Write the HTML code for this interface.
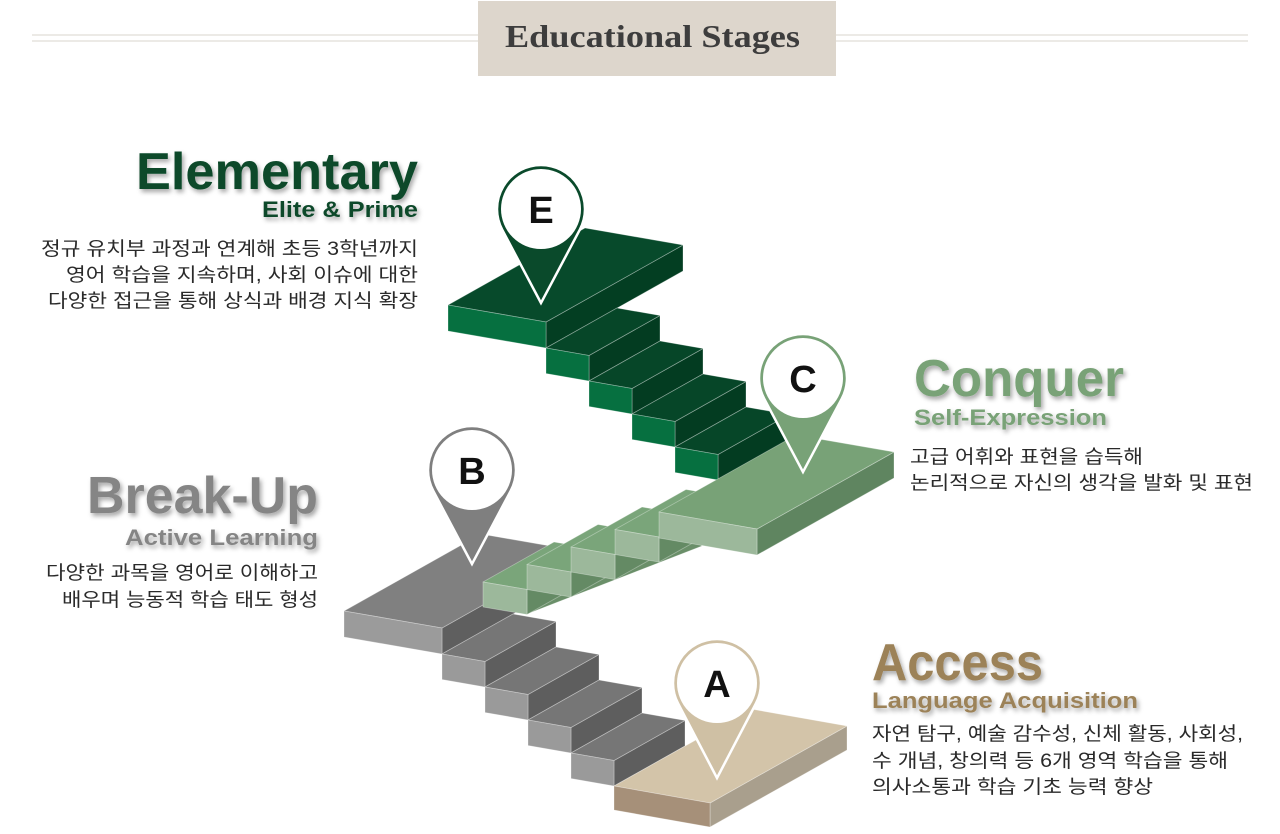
<!DOCTYPE html>
<html><head><meta charset="utf-8">
<style>
html,body{margin:0;padding:0;background:#fff;}
svg{display:block;}
.h{font-family:"Liberation Sans",sans-serif;font-weight:bold;}
.k{font-family:"Liberation Sans","Noto Sans CJK KR",sans-serif;font-size:19px;fill:#2a2a2a;}
.pin{font-family:"Liberation Sans",sans-serif;font-weight:bold;font-size:38px;fill:#111;text-anchor:middle;}
</style></head>
<body>
<svg id="s" width="1280" height="834" viewBox="0 0 1280 834" xmlns="http://www.w3.org/2000/svg">
<defs>
<filter id="sh" x="-10%" y="-30%" width="130%" height="170%">
<feDropShadow dx="2" dy="3" stdDeviation="2.5" flood-color="#000" flood-opacity="0.35"/>
</filter>
</defs>
<rect width="1280" height="834" fill="#fff"/>
<line x1="32" y1="35" x2="1248" y2="35" stroke="#e0ddd8" stroke-width="1.2"/>
<line x1="32" y1="41" x2="1248" y2="41" stroke="#e0ddd8" stroke-width="1.2"/>
<rect x="478" y="1" width="358" height="75" fill="#ddd6cc"/>
<text x="505" y="47" textLength="295" lengthAdjust="spacingAndGlyphs" font-family="Liberation Serif, serif" font-weight="bold" font-size="32" fill="#3d3d3d">Educational Stages</text>
<g id="shapes"></g>
<g class="h" filter="url(#sh)">
<text x="136" y="189" font-size="52" fill="#0c4a2b" textLength="282" lengthAdjust="spacingAndGlyphs">Elementary</text>
<text x="262" y="217" font-size="22" fill="#0c4a2b" textLength="156" lengthAdjust="spacingAndGlyphs">Elite &amp; Prime</text>
<text x="914" y="396" font-size="52" fill="#79a277" textLength="210" lengthAdjust="spacingAndGlyphs">Conquer</text>
<text x="914" y="425" font-size="22" fill="#79a277" textLength="193" lengthAdjust="spacingAndGlyphs">Self-Expression</text>
<text x="87" y="513" font-size="52" fill="#858585" textLength="231" lengthAdjust="spacingAndGlyphs">Break-Up</text>
<text x="125" y="545" font-size="22" fill="#858585" textLength="193" lengthAdjust="spacingAndGlyphs">Active Learning</text>
<text x="872" y="680" font-size="52" fill="#9c8258" textLength="171" lengthAdjust="spacingAndGlyphs">Access</text>
<text x="872" y="708" font-size="22" fill="#9c8258" textLength="266" lengthAdjust="spacingAndGlyphs">Language Acquisition</text>
</g>
<text class="k" x="41" y="255" textLength="377" lengthAdjust="spacingAndGlyphs">정규 유치부 과정과 연계해 초등 3학년까지</text>
<text class="k" x="66" y="281" textLength="352" lengthAdjust="spacingAndGlyphs">영어 학습을 지속하며, 사회 이슈에 대한</text>
<text class="k" x="48" y="307" textLength="370" lengthAdjust="spacingAndGlyphs">다양한 접근을 통해 상식과 배경 지식 확장</text>
<text class="k" x="910" y="463" textLength="233" lengthAdjust="spacingAndGlyphs">고급 어휘와 표현을 습득해</text>
<text class="k" x="910" y="489" textLength="343" lengthAdjust="spacingAndGlyphs">논리적으로 자신의 생각을 발화 및 표현</text>
<text class="k" x="46" y="579" textLength="272" lengthAdjust="spacingAndGlyphs">다양한 과목을 영어로 이해하고</text>
<text class="k" x="62" y="606" textLength="256" lengthAdjust="spacingAndGlyphs">배우며 능동적 학습 태도 형성</text>
<text class="k" x="872" y="740" textLength="371" lengthAdjust="spacingAndGlyphs">자연 탐구, 예술 감수성, 신체 활동, 사회성,</text>
<text class="k" x="872" y="767" textLength="356" lengthAdjust="spacingAndGlyphs">수 개념, 창의력 등 6개 영역 학습을 통해</text>
<text class="k" x="872" y="793" textLength="281" lengthAdjust="spacingAndGlyphs">의사소통과 학습 기초 능력 향상</text>
</svg>
<script>
(function(){
var g=document.getElementById('shapes');var out='';
var DL=[137,-77],DS=[71,-40];
function poly(pts,fill){out+='<polygon points="'+pts.map(function(p){return p[0].toFixed(1)+','+p[1].toFixed(1)}).join(' ')+'" fill="'+fill+'" stroke="rgba(255,255,255,0.35)" stroke-width="0.8" stroke-linejoin="round"/>';}
function box(P,w,drop,h,D,ct,cf,cs){
 var A=P,B=[P[0]+w,P[1]+drop];
 var Bd=[B[0]+D[0],B[1]+D[1]],Ad=[A[0]+D[0],A[1]+D[1]];
 poly([B,Bd,[Bd[0],Bd[1]+h],[B[0],B[1]+h]],cs);
 poly([A,B,Bd,Ad],ct);
 poly([A,B,[B[0],B[1]+h],[A[0],A[1]+h]],cf);
}
box([448,305],98,17,26,DL,'#074a2b','#067040','#033e22');
for(var i=0;i<4;i++){box([546+43*i,348+33*i],43,7.5,25.5,DS,'#064628','#067040','#033c21');}
box([344,611],98,17,26,DL,'#808080','#9b9b9b','#5f5f5f');
for(var i=0;i<4;i++){box([442+43*i,654+33*i],43,7.5,25.5,DS,'#767676','#9a9a9a','#5e5e5e');}
box([614,786],96,17,24,DL,'#d3c4a9','#a69079','#a99f8d');
poly([[527,564],[658,512],[702,546],[527,614]],'#6a8f69');
for(var i=0;i<4;i++){box([483+44*i,582-17.5*i],44,7.5,25,DS,'#7aa57a','#9cb89b','#648a64');}
box([659,512],98,17,26,DL,'#78a277','#9cb89b','#5f8560');
function pin(cx,cy,ty,col,L){
 var R=44,d=ty-cy,c=R/d,s=Math.sqrt(1-c*c);
 var tx=R*s,tyy=R*c;
 out+='<path d="M'+cx+','+ty+' L'+(cx-tx)+','+(cy+tyy)+' A'+R+','+R+' 0 1 1 '+(cx+tx)+','+(cy+tyy)+' Z" fill="'+col+'" stroke="#fff" stroke-width="2.5"/>';
 out+='<circle cx="'+cx+'" cy="'+cy+'" r="40" fill="#fff"/>';
 out+='<text class="pin" x="'+cx+'" y="'+(cy+14)+'">'+L+'</text>';
}
pin(541,209,303,'#0a4a2b','E');
pin(803,378,472,'#78a277','C');
pin(472,470,564,'#7f7f7f','B');
pin(717,683,778,'#cfc0a4','A');
g.innerHTML=out;
})();
</script>
</body></html>
